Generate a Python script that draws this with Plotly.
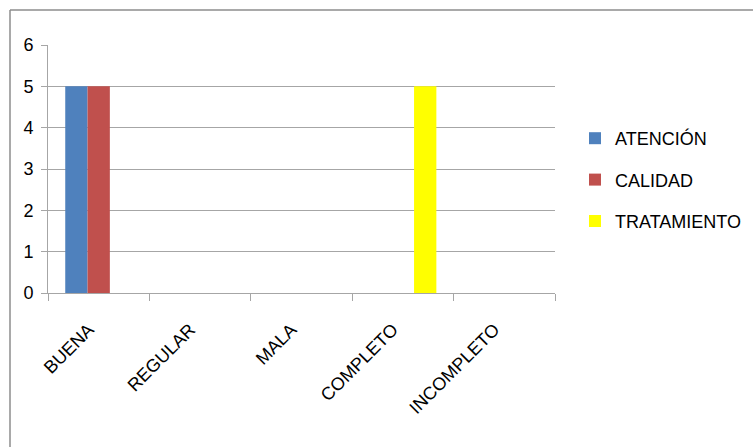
import plotly.graph_objects as go

# Chart data
categorias = ["BUENA", "REGULAR", "MALA", "COMPLETO", "INCOMPLETO"]
atencion = [5, 0, 0, 0, 0]
calidad = [5, 0, 0, 0, 0]
tratamiento = [0, 0, 0, 5, 0]
y_ticks = [0, 1, 2, 3, 4, 5, 6]

series = [
    ("ATENCIÓN", atencion, "#4F81BD"),
    ("CALIDAD", calidad, "#C0504D"),
    ("TRATAMIENTO", tratamiento, "#FFFF00"),
]

fig = go.Figure()
for nombre, valores, color in series:
    fig.add_trace(go.Bar(
        x=categorias, y=valores, name=nombre, legendgroup=nombre,
        marker=dict(color=color, line=dict(width=0)),
    ))

W, H = 753, 447
L, R, T, B = 48, 198, 45, 154
pw, ph = W - L - R, H - T - B

grid = "#A6A6A6"
fig.update_layout(
    width=W, height=H,
    margin=dict(l=L, r=R, t=T, b=B, autoexpand=False),
    paper_bgcolor="white", plot_bgcolor="white",
    barmode="group", bargap=0.34, bargroupgap=0,
    font=dict(family="Liberation Sans, Arial, sans-serif", color="#000000"),
    showlegend=True,
    legend=dict(
        x=(575 - L) / pw, xanchor="left",
        y=1 - (120 - T) / ph, yanchor="top",
        font=dict(size=18), tracegroupgap=15,
        traceorder="grouped", itemwidth=30,
        bgcolor="rgba(0,0,0,0)",
    ),
    xaxis=dict(
        type="category", tickson="boundaries",
        ticks="outside", ticklen=7, tickcolor=grid, tickwidth=1,
        showline=True, linecolor=grid, linewidth=1,
        showgrid=False, tickangle=-45, ticklabelstandoff=18,
        ticklabelshift=-10, tickfont=dict(size=18),
    ),
    yaxis=dict(
        range=[0, 6], tickvals=y_ticks, ticks="outside", ticklen=6,
        tickcolor=grid, showline=True, linecolor=grid, linewidth=1,
        showgrid=True, gridcolor=grid, gridwidth=1, zeroline=False,
        tickfont=dict(size=18), ticklabelstandoff=4,
    ),
)

# Outer chart frame (left and top edges)
fx = (10 - L) / pw
fy = 1 + (T - 10) / ph
fig.add_shape(type="line", xref="paper", yref="paper",
              x0=fx, x1=fx, y0=-2, y1=fy, line=dict(color="#8C8C8C", width=1.5))
fig.add_shape(type="line", xref="paper", yref="paper",
              x0=fx, x1=3, y0=fy, y1=fy, line=dict(color="#8C8C8C", width=1.5))

fig.write_html("out.html")
